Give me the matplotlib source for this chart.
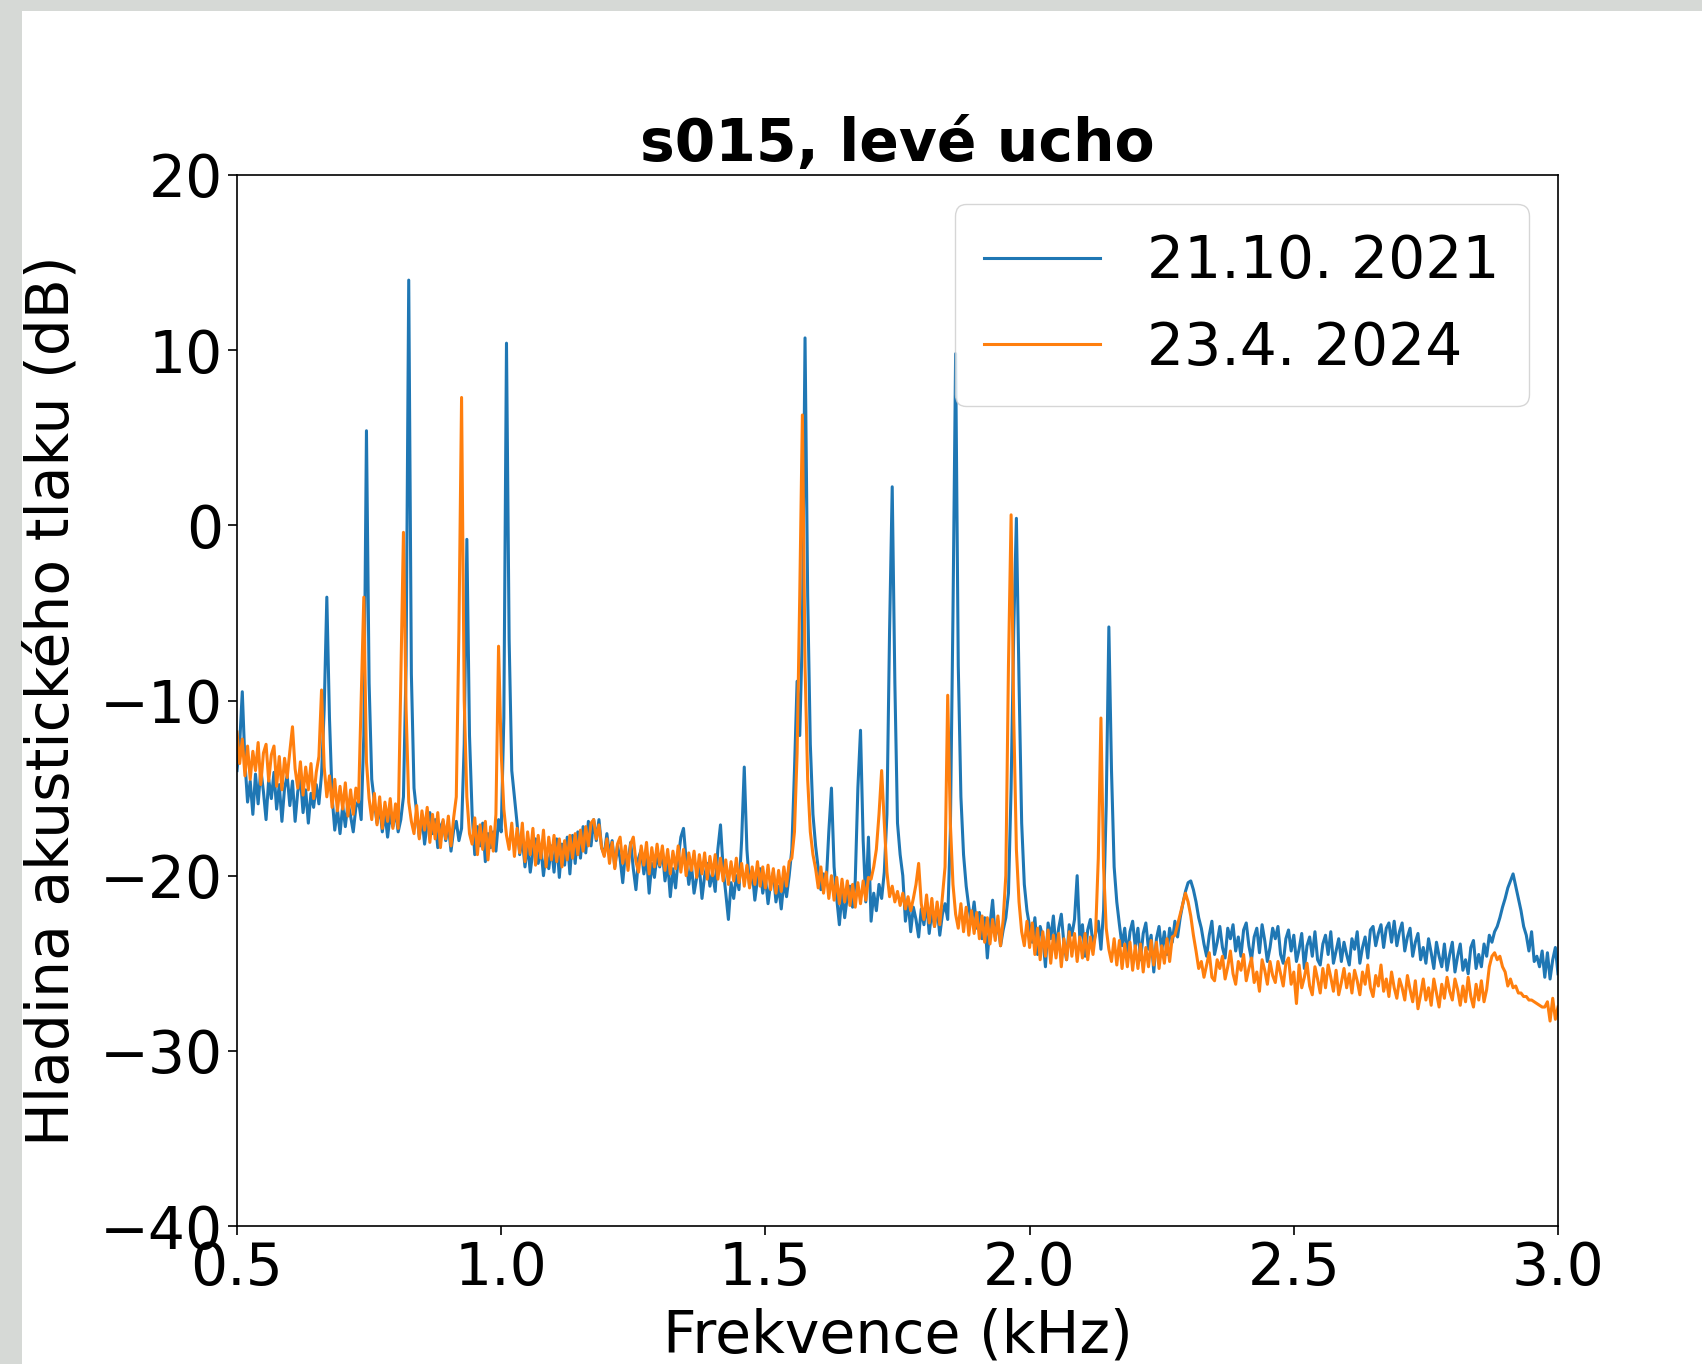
import numpy as np
import matplotlib
matplotlib.use("Agg")
import matplotlib.pyplot as plt
from matplotlib.patches import Rectangle

# Sample grid of the spectrum (kHz), 0.005 kHz spacing from 0.5 to 3.0
freq_khz = np.linspace(0.5, 3.0, 501)

# 21.10. 2021 (dB), 20 values per 0.1 kHz
level_2021 = [
    # 0.500-0.595
    -14.0, -12.5, -9.5, -13.5, -15.8, -14.6, -16.5, -14.2, -15.9, -13.9,
    -15.2, -16.8, -14.5, -15.6, -14.1, -16.2, -14.8, -16.9, -15.0, -14.3,
    # 0.600-0.695
    -16.0, -14.6, -16.9, -15.2, -14.4, -16.4, -15.1, -17.0, -15.3, -16.1,
    -14.8, -15.9, -14.2, -10.5, -4.1, -11.0, -15.5, -17.4, -16.2, -17.6,
    # 0.700-0.795
    -16.0, -17.2, -15.8, -16.6, -17.5, -16.1, -15.7, -16.8, -12.0, 5.4,
    -9.0, -14.5, -15.8, -17.0, -16.0, -17.5, -16.4, -17.8, -16.5, -17.2,
    # 0.800-0.895
    -16.3, -17.5, -16.8, -15.5, -8.0, 14.0, -8.5, -15.0, -16.4, -17.8,
    -16.6, -18.2, -17.0, -16.4, -17.6, -16.8, -18.4, -17.2, -16.9, -18.0,
    # 0.900-0.995
    -17.1, -18.6, -17.4, -16.9, -18.0, -17.3, -12.5, -0.8, -12.0, -16.5,
    -18.8, -17.2, -18.3, -17.0, -19.2, -17.6, -18.4, -17.5, -18.6, -16.8,
    # 1.000-1.095
    -17.5, -11.0, 10.4, -6.5, -14.0, -15.5, -17.0, -18.8, -17.9, -19.5,
    -18.2, -19.8, -18.6, -17.9, -19.3, -18.4, -20.0, -18.7, -19.6, -18.3,
    # 1.100-1.195
    -19.8, -17.9, -20.1, -18.2, -19.4, -17.8, -19.9, -17.7, -19.3, -17.5,
    -19.0, -17.2, -18.7, -16.9, -18.3, -16.8, -18.0, -16.8, -18.4, -18.8,
    # 1.200-1.295
    -17.6, -18.8, -18.0, -19.5, -18.3, -19.0, -20.4, -18.7, -19.2, -18.1,
    -19.6, -20.8, -19.0, -18.5, -19.9, -18.9, -21.0, -19.3, -20.1, -18.8,
    # 1.300-1.395
    -19.5, -18.6, -20.3, -19.2, -21.2, -19.6, -20.7, -19.0, -17.8, -17.3,
    -19.1, -20.5, -19.4, -21.0, -20.1, -19.5, -21.3, -20.0, -19.3, -20.6,
    # 1.400-1.495
    -19.8, -20.9, -18.5, -17.1, -19.6, -21.0, -22.5, -20.4, -21.3, -20.0,
    -20.8, -18.0, -13.8, -18.5, -20.6, -19.7, -21.4, -20.2, -19.6, -21.0,
    # 1.500-1.595
    -20.1, -21.6, -20.4, -19.8, -21.5, -20.6, -21.9, -20.3, -21.2, -20.0,
    -18.5, -14.0, -8.9, -12.0, -6.0, 10.7, -4.0, -12.5, -16.5, -18.3,
    # 1.600-1.695
    -19.6, -20.8, -19.9, -20.5, -17.5, -15.0, -19.5, -21.3, -22.8, -21.0,
    -22.4, -21.2, -20.6, -21.8, -20.3, -15.0, -11.7, -18.0, -21.5, -17.8,
    # 1.700-1.795
    -22.6, -21.0, -22.0, -20.5, -21.3, -19.8, -16.5, -6.0, 2.2, -9.0,
    -17.0, -18.8, -20.0, -22.6, -21.4, -23.2, -21.8, -22.5, -23.5, -21.9,
    # 1.800-1.895
    -22.8, -21.5, -23.3, -22.0, -22.9, -21.8, -23.4, -22.2, -21.6, -22.5,
    -17.5, -5.0, 9.8, -8.0, -15.5, -18.8, -20.6, -21.8, -22.7, -21.5,
    # 1.900-1.995
    -23.0, -22.1, -23.6, -22.4, -24.7, -22.8, -21.4, -23.5, -22.6, -24.0,
    -23.1, -22.4, -21.0, -15.0, -6.0, 0.4, -9.0, -17.0, -20.5, -22.0,
    # 2.000-2.095
    -22.9, -23.8, -22.4, -24.5, -22.9, -23.5, -25.2, -22.7, -23.6, -22.3,
    -24.2, -23.0, -22.2, -23.9, -24.8, -22.8, -23.4, -22.5, -20.0, -23.6,
    # 2.100-2.195
    -22.8, -24.6, -23.1, -22.5, -24.0, -23.3, -22.6, -24.2, -22.0, -16.0,
    -5.8, -14.0, -19.5, -21.5, -22.8, -24.0, -23.0, -24.6, -23.2, -22.6,
    # 2.200-2.295
    -24.1, -23.0, -24.8, -23.3, -22.7, -24.2, -23.4, -25.5, -23.6, -22.9,
    -24.3, -23.2, -24.5, -23.0, -23.8, -22.6, -23.5, -22.4, -21.6, -20.9,
    # 2.300-2.395
    -20.4, -20.3, -20.8, -21.5, -22.4, -23.0, -23.9, -24.6, -23.4, -22.6,
    -24.5, -23.8, -22.9, -24.1, -24.7, -23.0, -23.6, -22.8, -24.3, -23.5,
    # 2.400-2.495
    -24.6, -23.1, -22.7, -24.0, -24.8, -23.5, -23.0, -24.4, -22.8, -23.7,
    -24.9, -24.1, -23.0, -23.6, -22.9, -24.5, -25.0, -23.6, -23.1, -24.3,
    # 2.500-2.595
    -23.4, -24.9, -24.2, -23.3, -25.3, -24.0, -23.5, -24.6, -23.2, -24.8,
    -25.1, -23.9, -23.4, -24.5, -23.2, -25.0, -24.3, -23.6, -24.9, -23.8,
    # 2.600-2.695
    -24.5, -25.1, -23.6, -24.2, -23.2, -25.0, -24.1, -23.5, -24.7, -23.1,
    -22.9, -24.0, -23.3, -22.8, -24.1, -23.0, -22.7, -23.8, -22.6, -24.0,
    # 2.700-2.795
    -23.2, -22.7, -24.3, -23.5, -23.0, -24.6, -23.8, -23.3, -24.8, -24.1,
    -25.0, -23.6, -24.4, -25.3, -23.8, -24.6, -25.2, -23.9, -25.4, -24.5,
    # 2.800-2.895
    -23.8, -25.5, -24.6, -23.9, -25.4, -24.8, -25.6, -24.1, -23.7, -25.3,
    -24.5, -25.2, -23.9, -24.6, -23.4, -23.8, -23.2, -22.9, -22.4, -21.8,
    # 2.900-3.000
    -21.3, -20.7, -20.3, -19.9, -20.6, -21.3, -22.0, -22.9, -23.4, -24.3,
    -23.2, -24.9, -24.6, -25.2, -24.3, -25.8, -24.4, -25.9, -24.8, -24.1,
    -25.6,
]

# 23.4. 2024 (dB)
level_2024 = [
    # 0.500-0.595
    -11.8, -13.6, -12.2, -14.3, -12.6, -14.5, -12.9, -14.0, -12.4, -14.8,
    -13.0, -12.5, -14.6, -13.1, -12.6, -14.9, -13.2, -15.1, -13.3, -14.4,
    # 0.600-0.695
    -12.9, -11.5, -13.9, -15.0, -13.5, -15.4, -13.8, -15.1, -13.6, -15.6,
    -14.1, -13.2, -9.4, -13.8, -15.5, -14.3, -16.1, -14.5, -16.3, -14.9,
    # 0.700-0.795
    -16.2, -14.7, -16.6, -15.1, -16.5, -15.0, -15.8, -10.0, -4.1, -13.5,
    -15.6, -16.8, -15.3, -17.1, -15.5, -17.3, -15.8, -16.9, -15.6, -17.3,
    # 0.800-0.895
    -15.9, -17.3, -9.0, -0.4, -10.5, -15.8, -16.9, -17.6, -16.0, -17.9,
    -16.3, -17.4, -16.1, -18.1, -16.5, -17.9, -16.4, -18.4, -16.8, -17.9,
    # 0.900-0.995
    -16.6, -18.3, -16.7, -15.5, -6.0, 7.3, -10.0, -15.5, -17.6, -18.2,
    -16.7, -18.8, -17.1, -18.5, -16.9, -19.1, -17.2, -18.6, -16.5, -6.9,
    # 1.000-1.095
    -13.0, -16.2, -17.7, -18.5, -17.0, -18.9, -17.3, -18.7, -17.0, -19.2,
    -17.5, -18.8, -17.3, -19.4, -17.7, -19.0, -17.4, -19.5, -17.8, -19.1,
    # 1.100-1.195
    -17.7, -19.2, -17.9, -19.5, -18.0, -19.1, -17.7, -19.0, -17.6, -18.8,
    -17.4, -18.6, -17.2, -18.3, -17.0, -16.8, -17.9, -17.1, -18.4, -18.9,
    # 1.200-1.295
    -17.9, -19.3, -18.1, -19.6, -18.2, -17.8, -19.3, -18.3, -19.7, -18.2,
    -17.8, -19.2, -19.8, -18.3, -19.4, -18.1, -19.9, -18.4, -19.5, -18.2,
    # 1.300-1.395
    -19.4, -18.3, -19.7, -18.5, -19.9, -18.6, -19.6, -18.3, -19.8, -18.5,
    -20.0, -18.7, -19.7, -18.6, -20.1, -18.8, -19.9, -18.7, -20.2, -18.9,
    # 1.400-1.495
    -20.0, -18.8, -20.2, -19.0, -20.3, -19.1, -20.5, -19.2, -20.3, -19.0,
    -20.4, -19.3, -20.6, -19.4, -20.7, -19.5, -20.5, -19.2, -20.6, -19.5,
    # 1.500-1.595
    -20.7, -19.4, -20.8, -19.6, -21.0, -19.7, -20.9, -19.5, -20.6, -19.2,
    -19.0, -17.5, -13.0, -4.0, 6.3, -8.0, -14.5, -17.5, -18.8, -19.6,
    # 1.600-1.695
    -20.7, -19.5, -21.0, -19.8, -21.3, -20.0, -21.4, -20.1, -21.6, -20.2,
    -21.5, -20.3, -21.7, -20.5, -21.8, -20.4, -21.6, -20.3, -21.4, -20.1,
    # 1.700-1.795
    -20.2, -19.5, -18.5, -16.5, -14.0, -17.0, -19.8, -21.2, -20.6, -21.5,
    -20.9, -21.7, -21.0, -21.9, -21.2, -22.0, -21.3, -20.5, -19.3, -21.6,
    # 1.800-1.895
    -22.5, -21.1, -22.7, -21.3, -22.9, -21.5, -22.8, -21.2, -19.5, -9.7,
    -17.0, -20.5, -22.2, -23.0, -21.6, -23.2, -21.8, -23.4, -22.0, -23.3,
    # 1.900-1.995
    -22.1, -23.6, -22.3, -23.8, -22.4, -23.9, -22.5, -23.7, -22.3, -24.0,
    -22.5, -20.0, -8.0, 0.6, -11.0, -18.5, -21.5, -23.2, -24.0, -22.6,
    # 2.000-2.095
    -24.1, -22.7, -24.5, -23.0, -24.8, -23.2, -24.6, -23.1, -25.0, -23.4,
    -24.7, -23.3, -25.2, -23.6, -24.8, -23.2, -24.6, -23.3, -24.9, -23.5,
    # 2.100-2.195
    -24.7, -23.3, -24.8, -23.5, -24.5, -23.2, -19.0, -11.0, -19.5, -23.0,
    -24.2, -24.9, -23.6, -25.1, -23.7, -25.3, -23.9, -25.2, -23.8, -25.4,
    # 2.200-2.295
    -24.0, -25.3, -23.9, -25.5, -24.1, -25.2, -23.7, -25.1, -23.8, -25.3,
    -24.0, -25.0, -23.6, -24.9, -23.5, -23.4, -22.8, -22.2, -21.6, -21.0,
    # 2.300-2.395
    -21.5, -22.3, -23.4, -24.3, -25.3, -24.9, -25.8, -25.1, -24.4, -25.8,
    -26.0, -24.8, -25.3, -24.6, -25.9, -25.2, -24.3, -25.6, -26.2, -24.9,
    # 2.400-2.495
    -25.4, -24.5, -26.0, -25.3, -24.7, -26.1, -25.5, -26.6, -24.8, -25.4,
    -26.2, -24.9, -25.7, -26.1, -24.9, -25.6, -26.3, -25.0, -24.7, -26.2,
    # 2.500-2.595
    -25.5, -27.3, -25.1, -26.4, -25.8, -25.0, -26.3, -26.8, -25.2, -25.9,
    -26.7, -25.3, -26.4, -25.1, -25.8, -26.6, -25.4, -26.8, -26.1, -25.3,
    # 2.600-2.695
    -26.4, -25.6, -26.7, -25.4, -26.0, -26.8, -25.5, -26.2, -25.1, -26.4,
    -26.9, -25.7, -26.3, -25.1, -26.6, -25.9, -26.9, -25.5, -26.4, -27.0,
    # 2.700-2.795
    -25.9, -26.4, -27.1, -25.7, -26.5, -27.2, -26.0, -27.6, -26.8, -25.9,
    -27.1, -26.4, -27.4, -25.9, -26.7, -27.5, -26.2, -27.0, -25.8, -26.6,
    # 2.800-2.895
    -27.1, -25.9, -26.5, -27.4, -26.3, -27.2, -25.8, -26.9, -27.5, -26.2,
    -27.1, -26.0, -27.2, -26.5, -25.2, -24.6, -24.4, -24.8, -24.6, -25.2,
    # 2.900-3.000
    -25.5, -26.3, -25.9, -26.4, -26.3, -26.7, -26.7, -26.9, -26.9, -27.1,
    -27.1, -27.2, -27.3, -27.4, -27.5, -27.5, -27.2, -28.3, -27.0, -28.2,
    -27.5,
]

series_labels = ["21.10. 2021", "23.4. 2024"]
x_ticks = [0.5, 1.0, 1.5, 2.0, 2.5, 3.0]
y_ticks = [-40, -30, -20, -10, 0, 10, 20]

W, H = 1702, 1364
fig = plt.figure(figsize=(W / 100, H / 100), dpi=100)
fig.patch.set_facecolor("white")
gray = "#d6d9d6"
fig.add_artist(Rectangle((0, 0), 22 / W, 1, transform=fig.transFigure,
                         facecolor=gray, edgecolor="none", zorder=-5))
fig.add_artist(Rectangle((0, 1 - 11 / H), 1, 11 / H, transform=fig.transFigure,
                         facecolor=gray, edgecolor="none", zorder=-5))

ax = fig.add_axes([237 / W, 1 - 1226 / H, (1558 - 237) / W, (1226 - 175) / H])
ax.plot(freq_khz, level_2021, color="#1f77b4", lw=2.2, label=series_labels[0])
ax.plot(freq_khz, level_2024, color="#ff7f0e", lw=2.2, label=series_labels[1])

ax.set_xlim(0.5, 3.0)
ax.set_ylim(-40, 20)
ax.set_xticks(x_ticks)
ax.set_yticks(y_ticks)
fs = 42
ax.tick_params(labelsize=fs, length=6.5, width=1.2)
for s in ax.spines.values():
    s.set_linewidth(1.2)

ax.set_title("s015, levé ucho", fontsize=fs, fontweight="bold", pad=10)
ax.set_xlabel("Frekvence (kHz)", fontsize=fs, labelpad=8)
ax.set_ylabel("Hladina akustického tlaku (dB)", fontsize=fs, labelpad=14)
ax.legend(loc="upper right", fontsize=fs, borderpad=0.5)

fig.savefig("out.png", dpi=100)
